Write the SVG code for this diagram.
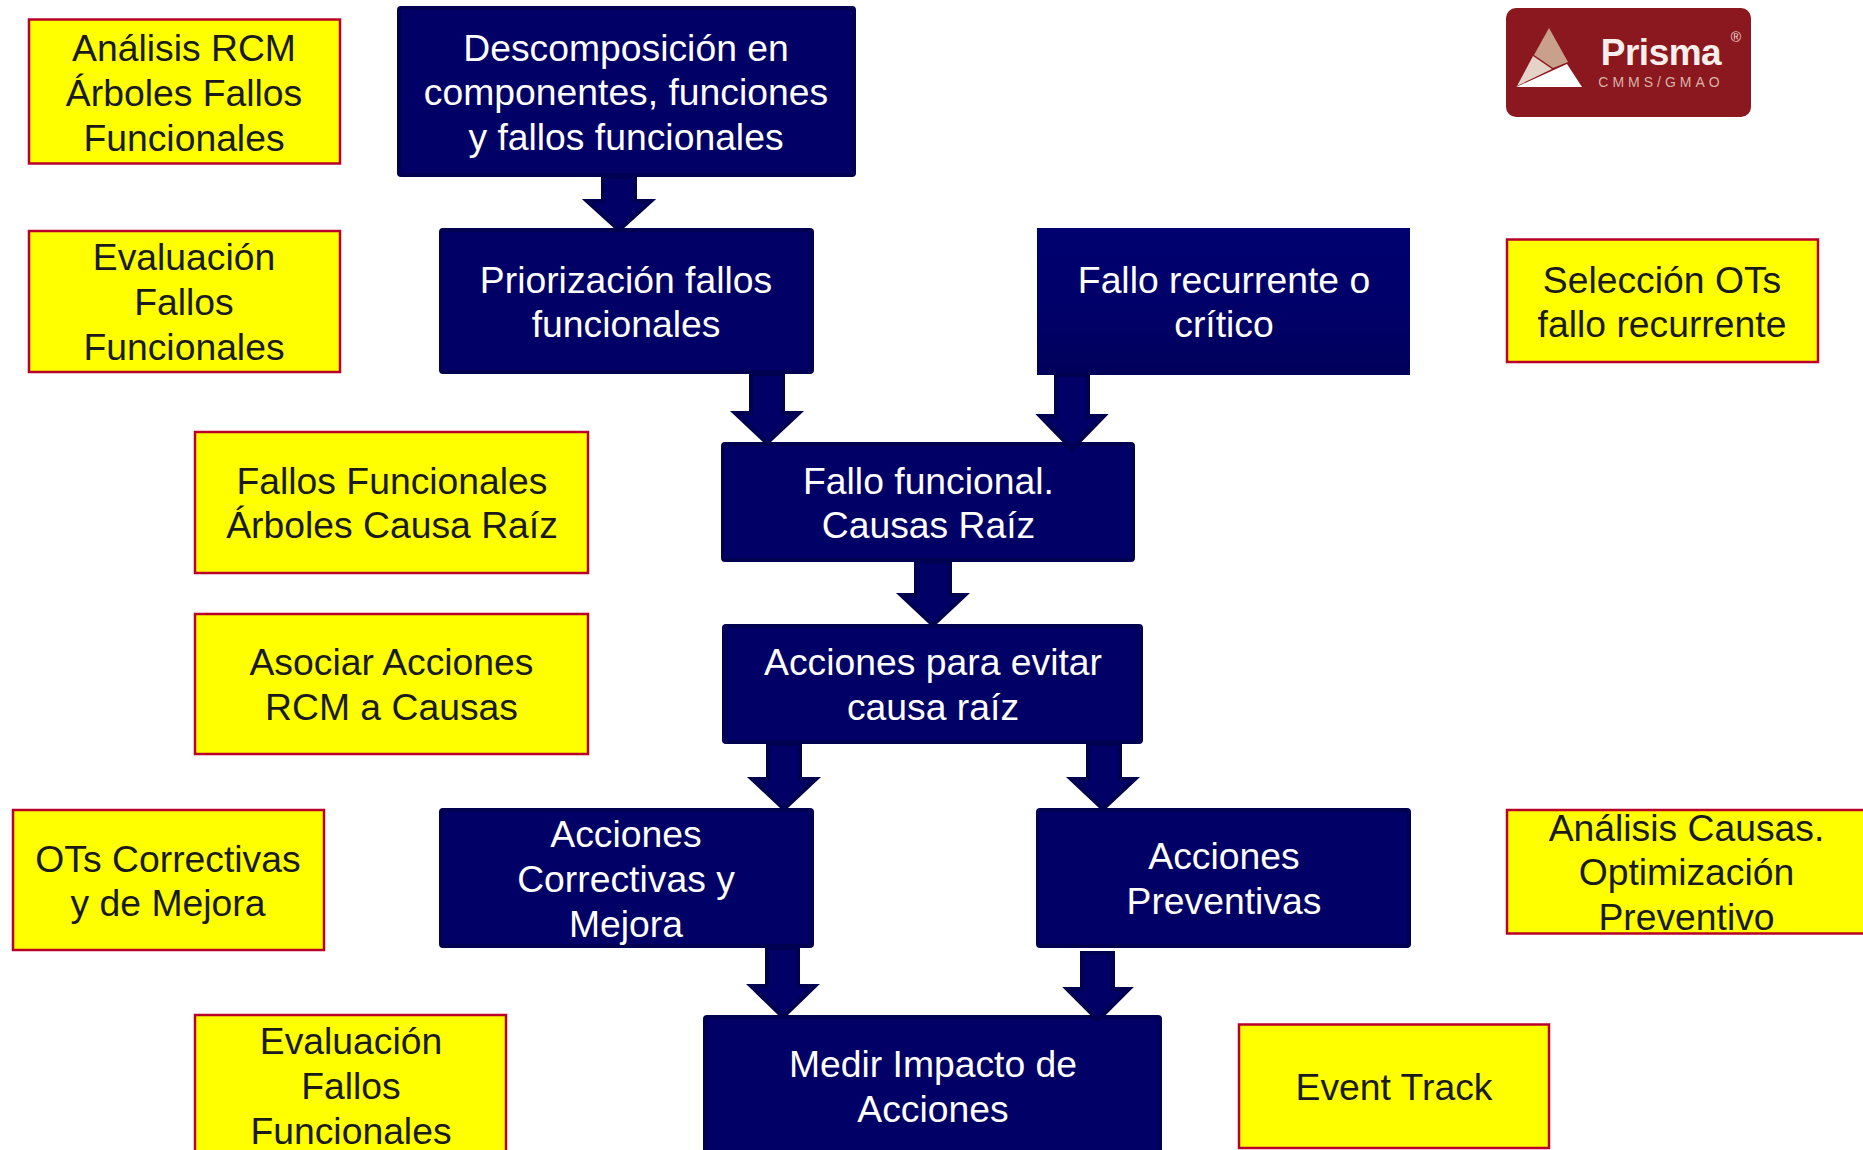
<svg xmlns="http://www.w3.org/2000/svg" width="1863" height="1150" viewBox="0 0 1863 1150">
<defs>
<linearGradient id="g" x1="0" y1="0" x2="0" y2="1"><stop offset="0" stop-color="#000070"/><stop offset="0.6" stop-color="#000068"/><stop offset="1" stop-color="#00005a"/></linearGradient>
</defs>
<style>
.n{fill:#000066;stroke:#000050;stroke-width:4}
.y{fill:#ffff00;stroke:#b80028;stroke-width:2.5}
.a{fill:#000066;stroke:#000050;stroke-width:4;stroke-linejoin:miter}
text{font-family:"Liberation Sans",Arial,sans-serif;font-size:37.3px;text-anchor:middle}
.w{fill:#ffffff}
.k{fill:#1a1a1a}
</style>
<rect width="1863" height="1150" fill="#ffffff"/>
<g id="n1"><rect class="n" x="399" y="8" width="455" height="167" rx="2"/><text class="w" x="626" y="61">Descomposición en</text><text class="w" x="626" y="105">componentes, funciones</text><text class="w" x="626" y="150">y fallos funcionales</text></g>
<g id="n2"><rect class="n" x="441" y="230" width="371" height="142" rx="2"/><text class="w" x="626" y="293">Priorización fallos</text><text class="w" x="626" y="337">funcionales</text></g>
<g id="n3"><rect x="1037" y="228" width="373" height="147" fill="url(#g)"/><text class="w" x="1224" y="293">Fallo recurrente o</text><text class="w" x="1224" y="337">crítico</text></g>
<g id="n4"><rect class="n" x="723" y="444" width="410" height="116" rx="2"/><text class="w" x="928.500" y="494">Fallo funcional.</text><text class="w" x="928.500" y="538">Causas Raíz</text></g>
<g id="n5"><rect class="n" x="724" y="626" width="417" height="116" rx="2"/><text class="w" x="933" y="675">Acciones para evitar</text><text class="w" x="933" y="720">causa raíz</text></g>
<g id="n6"><rect class="n" x="441" y="810" width="371" height="136" rx="2"/><text class="w" x="626" y="847">Acciones</text><text class="w" x="626" y="892">Correctivas y</text><text class="w" x="626" y="937">Mejora</text></g>
<g id="n7"><rect class="n" x="1038" y="810" width="371" height="136" rx="2"/><text class="w" x="1224" y="869">Acciones</text><text class="w" x="1224" y="914">Preventivas</text></g>
<g id="n8"><rect class="n" x="705" y="1017" width="455" height="150" rx="2"/><text class="w" x="933" y="1077">Medir Impacto de</text><text class="w" x="933" y="1122">Acciones</text></g>
<g id="y1"><rect class="y" x="29" y="19.500" width="311" height="144"/><text class="k" x="184" y="61">Análisis RCM</text><text class="k" x="184" y="106">Árboles Fallos</text><text class="k" x="184" y="151">Funcionales</text></g>
<g id="y2"><rect class="y" x="29" y="231" width="311" height="141"/><text class="k" x="184" y="270">Evaluación</text><text class="k" x="184" y="315">Fallos</text><text class="k" x="184" y="360">Funcionales</text></g>
<g id="y3"><rect class="y" x="195" y="432" width="393" height="141"/><text class="k" x="392" y="494">Fallos Funcionales</text><text class="k" x="392" y="538">Árboles Causa Raíz</text></g>
<g id="y4"><rect class="y" x="195" y="614" width="393" height="140"/><text class="k" x="391.500" y="675">Asociar Acciones</text><text class="k" x="391.500" y="720">RCM a Causas</text></g>
<g id="y5"><rect class="y" x="13" y="810" width="311" height="140"/><text class="k" x="168" y="872">OTs Correctivas</text><text class="k" x="168" y="916">y de Mejora</text></g>
<g id="y6"><rect class="y" x="195" y="1015" width="311" height="150"/><text class="k" x="351" y="1054">Evaluación</text><text class="k" x="351" y="1099">Fallos</text><text class="k" x="351" y="1144">Funcionales</text></g>
<g id="y7"><rect class="y" x="1507" y="239.500" width="311" height="122.500"/><text class="k" x="1662" y="293">Selección OTs</text><text class="k" x="1662" y="337">fallo recurrente</text></g>
<g id="y8"><rect class="y" x="1507" y="810" width="370" height="123.500"/><text class="k" x="1686.500" y="841">Análisis Causas.</text><text class="k" x="1686.500" y="885">Optimización</text><text class="k" x="1686.500" y="930">Preventivo</text></g>
<g id="y9"><rect class="y" x="1239" y="1024.500" width="310" height="123.500"/><text class="k" x="1394" y="1100">Event Track</text></g>
<g id="connectors">
<path class="a" d="M603 177V201H587L619 230L651 201H635V177Z"/>
<path class="a" d="M751 374V413H735L767 443L799 413H783V374Z"/>
<path class="a" d="M1056 375V416H1040L1072 449L1104 416H1088V375Z"/>
<path class="a" d="M916 562V595H901L933 625L965 595H950V562Z"/>
<path class="a" d="M768 744V779H752L784 809L816 779H800V744Z"/>
<path class="a" d="M1088 744V779H1071L1103 809L1135 779H1120V744Z"/>
<path class="a" d="M767 948V986H751L783 1017L815 986H798V948Z"/>
<path class="a" d="M1082 953V989H1067L1098 1020L1129 989H1113V953Z"/>
</g>
<g id="logo">
<rect x="1506" y="8" width="245" height="109" rx="10" fill="#8b181e"/>
<path d="M1549 28L1568 62L1553 68L1534 55Z" fill="#c9a08c"/>
<path d="M1533 56L1552 69L1517 86Z" fill="#e6d3c8"/>
<path d="M1567 64L1582 87H1516Z" fill="#ffffff"/>
<text x="1661" y="65" style="font-size:37px;font-weight:bold;letter-spacing:-0.5px" fill="#f8efec">Prisma</text>
<text x="1661" y="87" style="font-size:14px;letter-spacing:4px" fill="#d8b4a8">CMMS/GMAO</text>
<text x="1736" y="42" style="font-size:14px" fill="#f0dcd4">®</text>
</g>
</svg>
